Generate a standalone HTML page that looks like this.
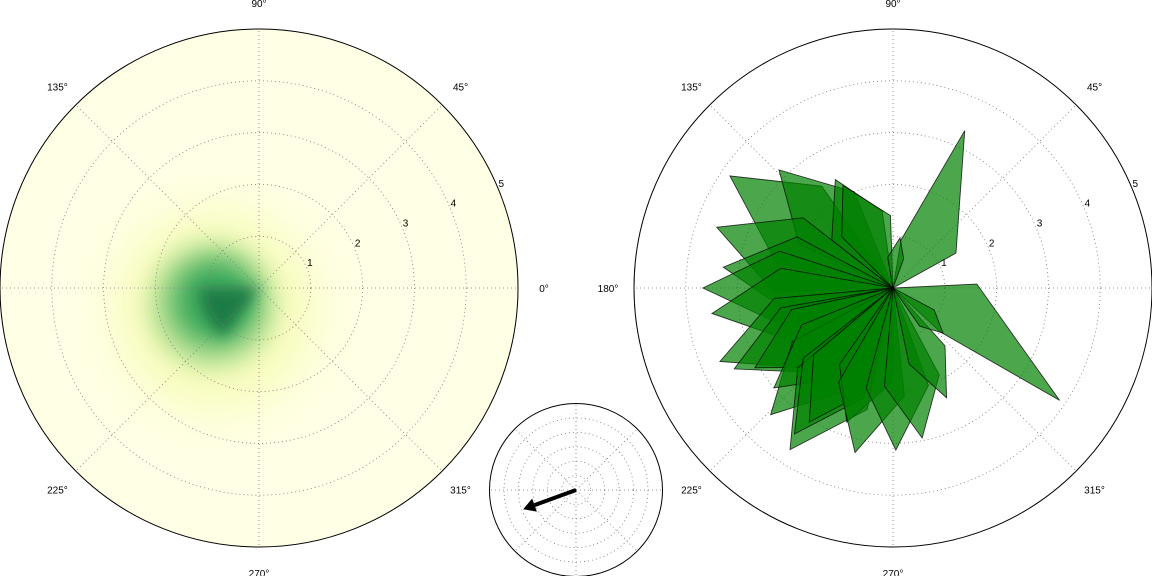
<!DOCTYPE html>
<html><head><meta charset="utf-8">
<style>
html,body{margin:0;padding:0;background:#fff;}
svg{display:block;font-family:"Liberation Sans",sans-serif;}
</style></head>
<body>
<svg id="chart" width="1152" height="576" viewBox="0 0 1152 576" xmlns="http://www.w3.org/2000/svg">
<defs>
<filter id="b25" x="-1" y="-1" width="3" height="3"><feGaussianBlur stdDeviation="24"/></filter>
<filter id="b14" x="-1" y="-1" width="3" height="3"><feGaussianBlur stdDeviation="12"/></filter>
<filter id="b6" x="-1" y="-1" width="3" height="3"><feGaussianBlur stdDeviation="7"/></filter>
<clipPath id="clipL"><circle cx="259" cy="288" r="259"/></clipPath>
</defs>
<g id="left"></g>
<g id="small"></g>
<g id="right"></g>
</svg>
<script>
// ---- data ----
const radialTicks = [1, 2, 3, 4, 5];
const angleTicks = [0, 45, 90, 135, 180, 225, 270, 315];
const angleTickLabels = ["0°", "45°", "90°", "135°", "180°", "225°", "270°", "315°"];
// petals (right chart): tip, left side, right side (degrees, radial units)
const tipAngle  = [65.5, -34, 145.5, 134, 118, 116, 161, 173, 180, 188, 203, 207, 210, 226, 220, 237.5, 236, 238, 251, 257, 271, 281, 296, 318, 82];
const tipR      = [3.34, 3.88, 3.82, 3.17, 2.37, 2.2, 3.6, 3.3, 3.67, 3.53, 3.63, 3.44, 3.08, 3.4, 3.0, 3.7, 3.4, 3.05, 2.74, 3.26, 3.13, 2.95, 2.36, 1.3, 0.98];
const leftAngle = [80.5, 2.7, 168, 155, 142, 135, 182, 192, 200, 208, 222, 228, 230, 245, 240, 258, 255, 258, 270, 276, 290, 298, 312, 332, 100];
const leftR     = [0.94, 1.62, 2.3, 2.0, 1.5, 1.4, 2.3, 2.1, 2.2, 2.2, 2.3, 2.2, 2.0, 2.2, 2.0, 2.4, 2.2, 2.0, 1.8, 2.1, 2.0, 1.9, 1.5, 0.9, 0.6];
const rightAngle= [29, -43, 125, 112, 98, 92, 142, 152, 162, 170, 185, 190, 192, 208, 202, 220, 218, 220, 235, 240, 255, 265, 282, 305, 70];
const rightR    = [1.39, 1.24, 2.4, 2.0, 1.5, 1.4, 2.2, 2.1, 2.3, 2.2, 2.3, 2.2, 2.0, 2.2, 1.9, 2.4, 2.2, 2.0, 1.8, 2.1, 2.0, 1.9, 1.5, 0.9, 0.6];
// arrow (small chart)
const arrowAngle = [200];
const arrowMag = [3.9];

const NS = "http://www.w3.org/2000/svg";
function mk(tag, attrs, parent) {
  const e = document.createElementNS(NS, tag);
  for (const k in attrs) e.setAttribute(k, attrs[k]);
  parent.appendChild(e);
  return e;
}
function polar(cx, cy, scale) {
  return (deg, r) => [cx + r * scale * Math.cos(deg * Math.PI / 180), cy - r * scale * Math.sin(deg * Math.PI / 180)];
}
function grid(g, cx, cy, R, rings, unit, labels) {
  const P = polar(cx, cy, unit);
  rings.forEach(v => {
    const c = mk("circle", {cx, cy, r: v * unit, fill: "none", stroke: "#777", "stroke-width": 0.8, "stroke-dasharray": "1,3"}, g);
    
    
  });
  angleTicks.forEach((a, i) => {
    const [x, y] = polar(cx, cy, R)(a, 1);
    const l = mk("line", {x1: cx, y1: cy, x2: x, y2: y, stroke: "#777", "stroke-width": 0.8, "stroke-dasharray": "1,3"}, g);
    
    
    if (labels) {
      const [tx, ty] = polar(cx, cy, R + 26)(a, 1);
      const t = mk("text", {x: tx, y: ty + 4, "font-size": 10, "text-anchor": "middle", fill: "#000"}, g);
      t.textContent = angleTickLabels[i];
      
      
    }
  });
  if (labels) {
    radialTicks.forEach(v => {
      const [tx, ty] = P(22.5, v);
      const t = mk("text", {x: tx + 3, y: ty - 2, "font-size": 10, "text-anchor": "middle", fill: "#000"}, g);
      t.textContent = String(v);
      
      
    });
  }
  const o = mk("circle", {cx, cy, r: R, fill: "none", stroke: "#000", "stroke-width": 1}, g);
  
  
}

// ---- left heatmap ----
const L = document.getElementById("left");
const lg = mk("g", {"clip-path": "url(#clipL)"}, L);
let e;
e = mk("circle", {cx: 259, cy: 288, r: 259, fill: "#ffffe5"}, lg);
 
e = mk("circle", {cx: 215, cy: 310, r: 100, fill: "#f7fcb9", filter: "url(#b25)"}, lg);
 
e = mk("circle", {cx: 212, cy: 305, r: 62, fill: "#addd8e", filter: "url(#b14)"}, lg);
 
e = mk("circle", {cx: 215, cy: 302, r: 42, fill: "#41ab5d", filter: "url(#b14)"}, lg);
 
e = mk("path", {d: "M259,288 L199,288 A60,60 0 0,0 224,337 Z", fill: "#1f7a45", filter: "url(#b6)"}, lg);
 
grid(L, 259, 288, 259, [1, 2, 3, 4], 51.8, true);

// ---- small arrow chart ----
const S = document.getElementById("small");
e = mk("circle", {cx: 576, cy: 490, r: 86.5, fill: "#fff"}, S);
 
grid(S, 576, 490, 86.5, [1, 2, 3, 4, 5], 14.4, false);
const PS = polar(576, 490, 14.4);
arrowAngle.forEach((a, i) => {
  const [x, y] = PS(a, arrowMag[i]);
  const [sx, sy] = PS(a, 0);
  const dx = x - sx, dy = y - sy, len = Math.hypot(dx, dy), ux = dx / len, uy = dy / len;
  const bx = x - ux * 12, by = y - uy * 12;
  const g = mk("g", {}, S);
  
  
  mk("line", {x1: sx, y1: sy, x2: bx, y2: by, stroke: "#000", "stroke-width": 4}, g);
  mk("polygon", {points: `${x},${y} ${bx - uy * 7},${by + ux * 7} ${bx + uy * 7},${by - ux * 7}`, fill: "#000"}, g);
});

// ---- right petals ----
const Rg = document.getElementById("right");
e = mk("circle", {cx: 893, cy: 288, r: 259, fill: "#fff"}, Rg);
 
grid(Rg, 893, 288, 259, [1, 2, 3, 4], 51.8, true);
const PR = polar(893, 288, 51.8);
tipAngle.forEach((a, i) => {
  const t = PR(a, tipR[i]), l = PR(leftAngle[i], leftR[i]), r = PR(rightAngle[i], rightR[i]);
  const p = mk("polygon", {points: `893,288 ${r[0]},${r[1]} ${t[0]},${t[1]} ${l[0]},${l[1]}`,
    fill: "rgba(0,128,0,0.7)", stroke: "rgba(0,0,0,0.75)", "stroke-width": 0.9, "stroke-linejoin": "miter"}, Rg);
  
  
});
</script>
</body></html>
